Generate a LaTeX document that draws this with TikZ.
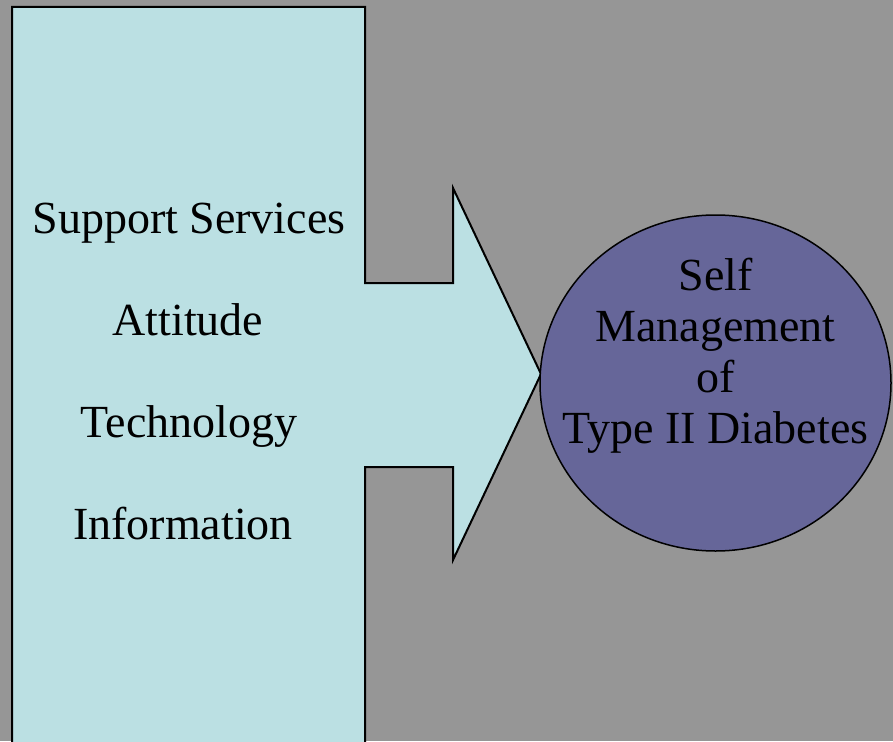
\documentclass[tikz,border=0pt]{standalone}
\usepackage{fontspec}
\setmainfont{Liberation Serif}
\usetikzlibrary{shapes.geometric}

\definecolor{slidegray}{RGB}{150,150,150}
\definecolor{paleblue}{HTML}{BBE0E3}
\definecolor{slateblue}{HTML}{666699}

\tikzset{
    factor/.style={anchor=base, inner sep=0pt, font=\fontsize{46}{51}\selectfont},
    goalshape/.style={ellipse, draw=black, line width=1.5pt, fill=slateblue,
        minimum width=351pt, minimum height=336pt, inner sep=0pt},
    goaltext/.style={align=center, inner sep=0pt, font=\fontsize{46}{51}\selectfont}
}

\begin{document}
\begin{tikzpicture}[x=1pt, y=-1pt]
        \fill[slidegray] (0,0) rectangle (893,741);
        \useasboundingbox (0,0) rectangle (893,741);

        \filldraw[fill=paleblue, draw=black, line width=2pt] (12,7) -- (365,7) -- (365,283) -- (453,283) -- (453,188)
            -- (541,374) -- (453,560) -- (453,467) -- (365,467) -- (365,760) -- (12,760) -- cycle;

        \node[factor] (support) at (189,233) {Support Services};
        \node[factor] (attitude) at (188,335) {Attitude};
        \node[factor] (technology) at (189,437) {Technology};
        \node[factor] (information) at (183,539) {Information};

        \node[goalshape] (goal) at (715.5,383) {};
        \node[goaltext] (goallabel) at (goal.center) [yshift=27pt] {Self\\Management\\of\\Type II Diabetes};
    \end{tikzpicture}
\end{document}
